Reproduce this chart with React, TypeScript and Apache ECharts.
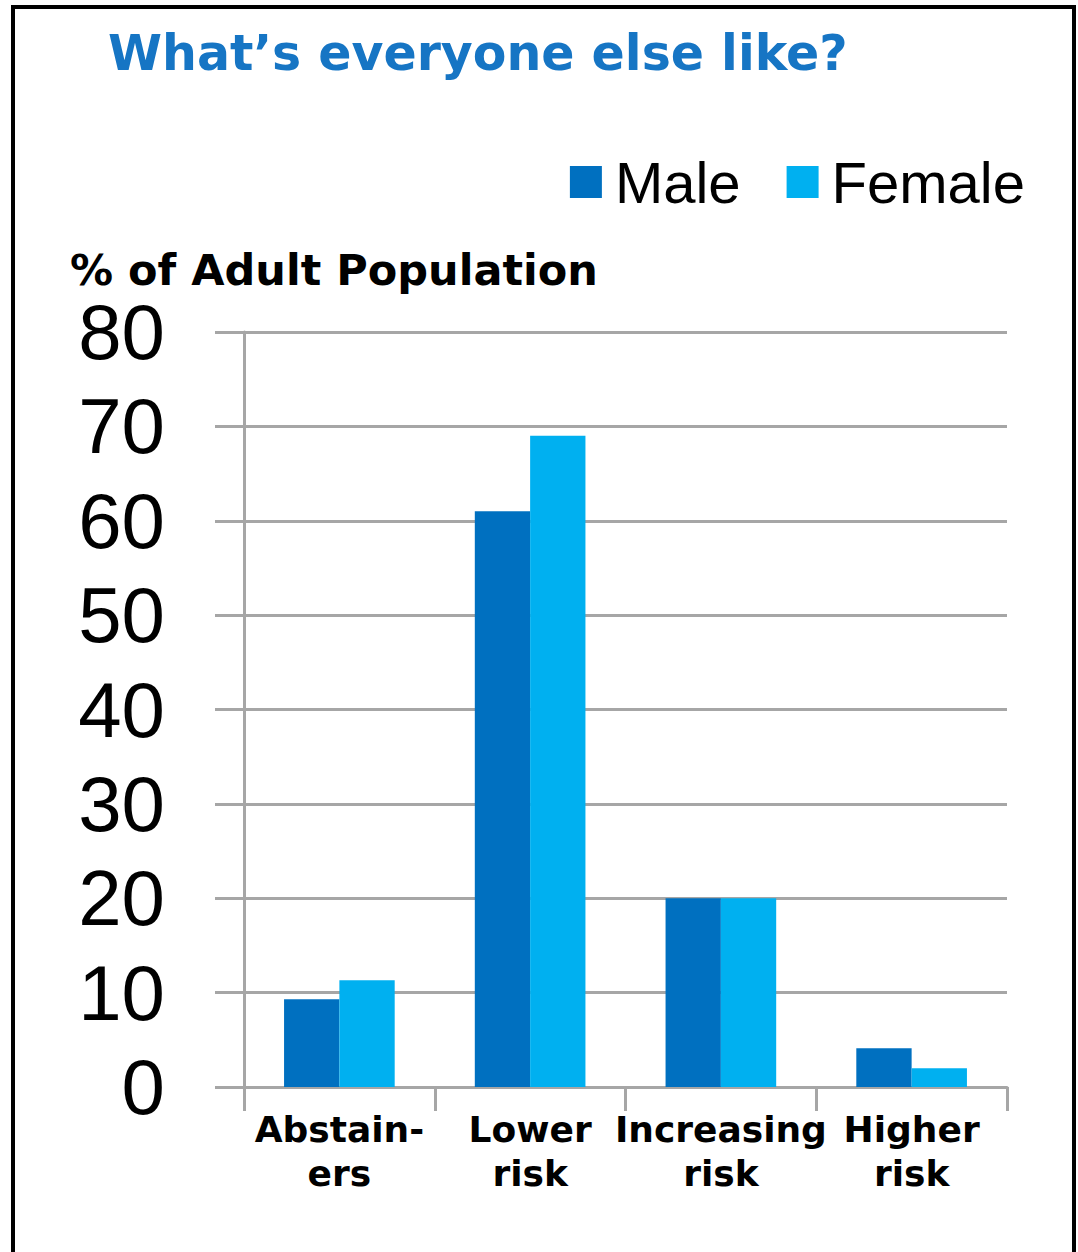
import React, { useEffect, useRef } from "react";
import * as echarts from "echarts";

const categories = ["Abstain-\ners", "Lower\nrisk", "Increasing\nrisk", "Higher\nrisk"];
const maleValues = [9.3, 61, 20, 4.1];
const femaleValues = [11.3, 69, 20, 2];
const seriesNames = ["Male", "Female"];
const titleText = "What’s everyone else like?";
const yAxisTitle = "% of Adult Population";

export default function App() {
  const ref = useRef<HTMLDivElement>(null);
  useEffect(() => {
    document.body.style.margin = "0";
    const chart = echarts.init(ref.current!, null, { renderer: "svg" });
    const gray = "#a6a6a6";
    chart.setOption({
      animation: false,
      backgroundColor: "#ffffff",
      graphic: [
        {
          type: "rect",
          shape: { x: 13, y: 7, width: 1061, height: 1270 },
          style: { fill: "none", stroke: "#000", lineWidth: 4 },
          silent: true,
        },
        {
          type: "text",
          left: 108,
          top: 29,
          style: {
            text: titleText,
            fontFamily: "DejaVu Sans",
            fontWeight: "bold",
            fontSize: 49,
            fill: "#1675c4",
          },
        },
        {
          type: "text",
          left: 70,
          top: 248,
          style: {
            text: yAxisTitle,
            fontFamily: "DejaVu Sans",
            fontWeight: "bold",
            fontSize: 43,
            lineHeight: 43,
            fill: "#000",
          },
        },
      ],
      legend: {
        data: seriesNames,
        right: 53,
        top: 153,
        padding: 0,
        icon: "rect",
        itemWidth: 32,
        itemHeight: 32,
        itemGap: 46,
        textStyle: {
          fontFamily: "Liberation Sans",
          fontSize: 58,
          color: "#000",
          padding: [0, 0, 0, 8],
        },
      },
      grid: { left: 244, right: 71, top: 332, bottom: 165 },
      xAxis: {
        type: "category",
        data: categories,
        axisLine: { lineStyle: { color: gray, width: 3 } },
        axisTick: { show: true, interval: 0, alignWithLabel: false, length: 24, lineStyle: { color: gray, width: 3 } },
        axisLabel: {
          interval: 0,
          margin: 20,
          fontFamily: "DejaVu Sans",
          fontWeight: "bold",
          fontSize: 36,
          lineHeight: 44,
          color: "#000",
        },
      },
      yAxis: {
        type: "value",
        min: 0,
        max: 80,
        interval: 10,
        axisLine: { show: true, lineStyle: { color: gray, width: 3 } },
        axisTick: { show: true, length: 29, lineStyle: { color: gray, width: 3 } },
        splitLine: { lineStyle: { color: gray, width: 3 } },
        axisLabel: {
          margin: 79,
          fontFamily: "Liberation Sans",
          fontSize: 78,
          lineHeight: 60,
          color: "#000",
        },
      },
      series: [
        {
          name: seriesNames[0],
          type: "bar",
          data: maleValues,
          barGap: "0%",
          barCategoryGap: "42%",
          itemStyle: { color: "#0070c0" },
        },
        {
          name: seriesNames[1],
          type: "bar",
          data: femaleValues,
          barGap: "0%",
          barCategoryGap: "42%",
          itemStyle: { color: "#00b0f0" },
        },
      ],
    });
    return () => chart.dispose();
  }, []);
  return <div ref={ref} style={{ width: 1078, height: 1252 }} />;
}
